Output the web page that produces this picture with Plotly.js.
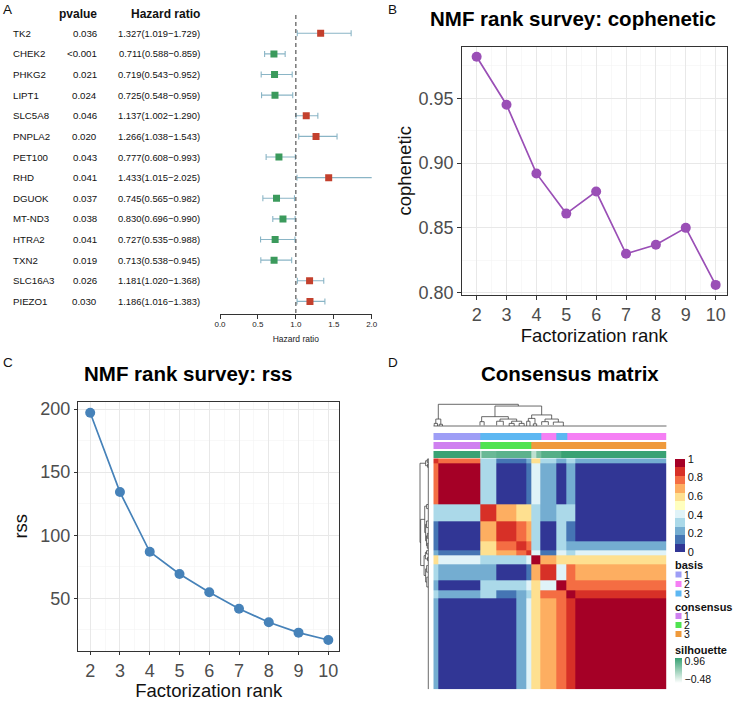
<!DOCTYPE html>
<html><head><meta charset="utf-8">
<script src="https://cdn.plot.ly/plotly-3.0.1.min.js"></script>
<style>html,body{margin:0;padding:0;background:#fff;}#chart{width:738px;height:701px;}</style>
</head><body><div id="chart"></div>
<script>
// ---------------- Panel A: forest plot data ----------------
const genes = ['TK2','CHEK2','PHKG2','LIPT1','SLC5A8','PNPLA2','PET100','RHD','DGUOK','MT-ND3','HTRA2','TXN2','SLC16A3','PIEZO1'];
const pvalues = ['0.036','<0.001','0.021','0.024','0.046','0.020','0.043','0.041','0.037','0.038','0.041','0.019','0.026','0.030'];
const hazardRatio = [1.327,0.711,0.719,0.725,1.137,1.266,0.777,1.433,0.745,0.830,0.727,0.713,1.181,1.186];
const ciLower = [1.019,0.588,0.543,0.548,1.002,1.038,0.608,1.015,0.565,0.696,0.535,0.538,1.020,1.016];
const ciUpper = [1.729,0.859,0.952,0.959,1.290,1.543,0.993,2.025,0.982,0.990,0.988,0.945,1.368,1.383];
const hrTicks = [0,0.5,1,1.5,2];
const hrTickText = ['0.0','0.5','1.0','1.5','2.0'];

// ---------------- Panels B & C: rank survey ----------------
const ranks = [2,3,4,5,6,7,8,9,10];
const cophenetic = [0.982,0.945,0.892,0.861,0.878,0.830,0.837,0.850,0.806];
const rss = [197.1,134.2,86.9,69.3,54.8,41.8,31.0,22.8,17.0];

// ---------------- Panel D: consensus matrix ----------------
const segmentBounds = [0,3,28,38,50,56,59,64,74,80,85,140];
const consensusBlocks = [
  [0.90,0.78,0.35,0.15,0.15,0.20,0.60,0.30,0.20,0.30,0.25],
  [0.78,0.97,0.32,0.05,0.08,0.12,0.40,0.25,0.05,0.25,0.03],
  [0.35,0.32,0.85,0.68,0.62,0.55,0.35,0.25,0.30,0.30,0.05],
  [0.15,0.05,0.68,0.84,0.74,0.66,0.30,0.05,0.32,0.15,0.08],
  [0.15,0.08,0.62,0.74,0.88,0.74,0.35,0.08,0.35,0.25,0.22],
  [0.20,0.12,0.55,0.66,0.74,0.90,0.45,0.15,0.40,0.35,0.38],
  [0.60,0.40,0.35,0.30,0.35,0.45,0.92,0.70,0.60,0.55,0.62],
  [0.30,0.25,0.25,0.05,0.08,0.15,0.70,0.88,0.45,0.75,0.68],
  [0.20,0.05,0.30,0.32,0.35,0.40,0.60,0.45,0.93,0.80,0.80],
  [0.30,0.25,0.30,0.15,0.25,0.35,0.55,0.75,0.80,0.93,0.85],
  [0.25,0.03,0.05,0.08,0.22,0.38,0.62,0.68,0.80,0.85,0.96]
];
const basisBounds = [0,28,65,73.6,80.6,140];
const basisClass = [1,3,2,3,2];
const consensusBounds = [0,28,59,140];
const consensusClass = [1,2,3];
const silhouetteBounds = [0,28,28.6,38,59,62,65,77,140];
const silhouetteValues = [0.95,-0.4,0.6,0.7,0.0,0.5,0.75,0.95];
// dendrogram merges: [left position, right position, merge height, left child height, right child height]
const dendroMerges = [
  [3,51,1.0,0.32,0.92],[37,65,0.92,0.43,0.51],
  [1.5,4.5,0.32,0.12,0.08],[0.5,2.5,0.12,0,0],[3.5,5.5,0.08,0,0],
  [29,45,0.43,0.2,0.32],[28,30.5,0.2,0.03,0.03],[40,50,0.32,0.22,0.22],
  [38,42,0.22,0.03,0.03],[47,53,0.22,0.12,0.12],[45.5,48.5,0.12,0,0],[51.5,54.5,0.12,0,0],
  [59,71,0.51,0.35,0.32],[57,61,0.35,0.22,0.1],[56,58,0.22,0,0],[60,62,0.1,0,0],
  [67,75,0.32,0.2,0.18],[65,69,0.2,0.05,0.05],[72,78,0.18,0.05,0],
  [0,140,0,0,0]
];
const heatTicks = [0,0.2,0.4,0.6,0.8,1];
const heatTickText = ['0','0.2','0.4','0.6','0.8','1'];
const basisLabels = ['1','2','3'];
const consensusLabels = ['1','2','3'];
const silhouetteRange = [-0.48,0.96];

// ---------------- styling ----------------
const F = 'Liberation Sans, Arial, sans-serif';
const W = 738, H = 701;
const px = v => v / W;
const py = v => 1 - v / H;
const RED = '#c3402d', GREEN = '#3b9a5c';
const heatColors = ['#313695','#4575b4','#74add1','#abd9e9','#e0f3f8','#ffffbf','#fee090','#fdae61','#f46d43','#d73027','#a50026'];
const basisColors = ['#9e9ef6','#f57ff4','#5db7f2'];
const consensusColors = ['#cf81f0','#50e350','#ef9a3c'];
function discreteScale(cols){
  const n = cols.length, s = [];
  cols.forEach((c,i)=>{ s.push([i/n,c]); s.push([(i+1)/n,c]); });
  return s;
}
function dendroPath(m){
  const a=[], b=[];
  m.forEach(([l,r,h,hl,hr])=>{ a.push(l,l,r,r,null); b.push(hl,h,h,hr,null); });
  return {pos:a, hgt:b};
}
const dp = dendroPath(dendroMerges);
const rowIdx = genes.map((g,i)=>i+1);
// legend tick labels sit slightly inside the bar ends, as in the reference
const silSpan = silhouetteRange[1]-silhouetteRange[0];
const silTickPos = [silhouetteRange[0]+0.15*silSpan, silhouetteRange[1]-0.13*silSpan];

const traces = [];
// forest
traces.push({
  type:'scatter', mode:'markers', x:hazardRatio, y:rowIdx, xaxis:'x', yaxis:'y',
  marker:{symbol:'square', size:7, color:hazardRatio.map(v=>v>1?RED:GREEN)},
  error_x:{type:'data', symmetric:false,
    array:ciUpper.map((u,i)=>u-hazardRatio[i]), arrayminus:ciLower.map((l,i)=>hazardRatio[i]-l),
    color:'#8ab5c6', thickness:1.1, width:3},
  hoverinfo:'skip'
});
// B
traces.push({type:'scatter', mode:'lines+markers', x:ranks, y:cophenetic, xaxis:'x2', yaxis:'y2',
  line:{color:'#9a4fb6', width:1.7}, marker:{color:'#9a4fb6', size:10}});
// C
traces.push({type:'scatter', mode:'lines+markers', x:ranks, y:rss, xaxis:'x3', yaxis:'y3',
  line:{color:'#4682b9', width:1.7}, marker:{color:'#4682b9', size:10}});
// D main heatmap
traces.push({type:'heatmap', x:segmentBounds, y:segmentBounds, z:consensusBlocks, xaxis:'x4', yaxis:'y4',
  zmin:0, zmax:1, colorscale:discreteScale(heatColors), hoverinfo:'skip',
  colorbar:{x:px(675), xanchor:'left', y:py(459), yanchor:'top', len:93, lenmode:'pixels',
    thickness:10, thicknessmode:'pixels', outlinewidth:0, xpad:0, ypad:0,
    tickmode:'array', tickvals:heatTicks, ticktext:heatTickText, ticks:'',
    tickfont:{family:F, size:11, color:'#111'}}});
// annotation tracks
traces.push({type:'heatmap', x:basisBounds, y:[0,0.78], z:[basisClass], xaxis:'x5', yaxis:'y5',
  zmin:0.5, zmax:3.5, colorscale:discreteScale(basisColors), showscale:false, hoverinfo:'skip'});
traces.push({type:'heatmap', x:consensusBounds, y:[1,1.78], z:[consensusClass], xaxis:'x5', yaxis:'y5',
  zmin:0.5, zmax:3.5, colorscale:discreteScale(consensusColors), showscale:false, hoverinfo:'skip'});
traces.push({type:'heatmap', x:silhouetteBounds, y:[2,2.78], z:[silhouetteValues], xaxis:'x5', yaxis:'y5',
  zmin:silhouetteRange[0], zmax:silhouetteRange[1], colorscale:[[0,'#ffffff'],[1,'#38a173']], hoverinfo:'skip',
  colorbar:{x:px(675), xanchor:'left', y:py(658), yanchor:'top', len:25, lenmode:'pixels',
    thickness:7, thicknessmode:'pixels', outlinewidth:0, xpad:0, ypad:0,
    tickmode:'array', tickvals:silTickPos, ticktext:['\u22120.48','0.96'], ticks:'',
    tickfont:{family:F, size:10.5, color:'#111'}}});
// dendrograms
traces.push({type:'scatter', mode:'lines', x:dp.pos, y:dp.hgt, xaxis:'x6', yaxis:'y6',
  line:{color:'#444', width:0.8}, hoverinfo:'skip'});
traces.push({type:'scatter', mode:'lines', x:dp.hgt, y:dp.pos, xaxis:'x7', yaxis:'y7',
  line:{color:'#444', width:0.8}, hoverinfo:'skip'});

const ggAxis = (dom, range, extra) => Object.assign({
  domain:dom, range:range, showline:true, mirror:true, linecolor:'#333', linewidth:1,
  ticks:'outside', ticklen:3.5, tickcolor:'#333', tickwidth:1,
  tickfont:{family:F, size:18, color:'#4d4d4d'}, showgrid:true, gridcolor:'#e8e8e8', gridwidth:1,
  zeroline:false
}, extra);
const hidden = (dom, range, anchor) => ({domain:dom, range:range, visible:false, anchor:anchor, fixedrange:true});

const layout = {
  width:W, height:H, margin:{l:0,r:0,t:0,b:0}, paper_bgcolor:'#fff', plot_bgcolor:'#fff',
  showlegend:false, font:{family:F, color:'#111'},
  xaxis:{domain:[px(220),px(371.7)], range:[0,2], anchor:'y', showline:true, linecolor:'#333', linewidth:1,
    ticks:'outside', ticklen:4, tickcolor:'#333', tickmode:'array', tickvals:hrTicks, ticktext:hrTickText,
    tickfont:{family:F, size:8, color:'#222'}, showgrid:false, zeroline:false, ticklabelstandoff:-2,
    title:{text:'Hazard ratio', font:{family:F, size:8.5, color:'#222'}, standoff:8}},
  yaxis:{domain:[py(314),py(12)], range:[14.61,-0.03], visible:false, anchor:'x'},
  xaxis2:ggAxis([px(461.7),px(726.7)], [1.5,10.37], {anchor:'y2', tick0:2, dtick:1,
    minor:{dtick:0.5, showgrid:true, gridcolor:'#f3f3f3', gridwidth:0.6},
    title:{text:'Factorization rank', font:{family:F, size:18.5, color:'#111'}, standoff:4}}),
  yaxis2:ggAxis([py(295),py(46.7)], [0.7982,0.9898], {anchor:'x2', tick0:0.8, dtick:0.05, tickformat:'.2f',
    minor:{dtick:0.025, showgrid:true, gridcolor:'#f3f3f3', gridwidth:0.6},
    title:{text:'cophenetic', font:{family:F, size:18.5, color:'#111'}, standoff:2}}),
  xaxis3:ggAxis([px(78.3),px(339.3)], [1.6,10.37], {anchor:'y3', tick0:2, dtick:1,
    minor:{dtick:0.5, showgrid:true, gridcolor:'#f3f3f3', gridwidth:0.6},
    title:{text:'Factorization rank', font:{family:F, size:18.5, color:'#111'}, standoff:4}}),
  yaxis3:ggAxis([py(650.7),py(401.7)], [8.5,205.8], {anchor:'x3', tick0:50, dtick:50,
    minor:{dtick:25, showgrid:true, gridcolor:'#f3f3f3', gridwidth:0.6},
    title:{text:'rss', font:{family:F, size:18.5, color:'#111'}, standoff:7}}),
  xaxis4:hidden([px(433.3),px(666.7)], [0,140], 'y4'),
  yaxis4:hidden([py(689.3),py(458.3)], [140,0], 'x4'),
  xaxis5:hidden([px(433.3),px(666.7)], [0,140], 'y5'),
  yaxis5:hidden([py(458.2),py(433)], [2.8,0], 'x5'),
  xaxis6:hidden([px(433.3),px(666.7)], [0,140], 'y6'),
  yaxis6:hidden([py(427),py(403)], [-0.046,1.06], 'x6'),
  xaxis7:hidden([px(419),px(429)], [1.12,-0.084], 'y7'),
  yaxis7:hidden([py(689.3),py(458.3)], [140,0], 'x7'),
  shapes:[], annotations:[]
};

// dashed reference line at HR = 1
layout.shapes.push({type:'line', xref:'x', yref:'paper', x0:1, x1:1, y0:py(313), y1:py(12),
  line:{color:'#555', width:1.2, dash:'4px,3px'}});

const A = layout.annotations;
const txt = (x, y, text, opt) => Object.assign({xref:'paper', yref:'paper', x:x, y:y, text:text,
  xanchor:'center', yanchor:'middle', showarrow:false, font:{family:F, size:9.7, color:'#111'}}, opt);

// panel letters
[['A',7,9],['B',392,9],['C',7.5,362],['D',393,362]].forEach(([t,x,y])=>
  A.push(txt(px(x), py(y), t, {font:{family:F, size:13.5, color:'#111'}})));
// forest headers
A.push(txt(px(99), py(14), '<b>pvalue</b>', {xanchor:'right', font:{family:F, size:12, color:'#111'}}));
A.push(txt(px(201.5), py(14), '<b>Hazard ratio</b>', {xanchor:'right', font:{family:F, size:12, color:'#111'}}));
// forest rows
genes.forEach((g,i)=>{
  A.push({xref:'paper', yref:'y', x:px(11), y:rowIdx[i], text:g, xanchor:'left', yanchor:'middle', showarrow:false,
    font:{family:F, size:9.7, color:'#111'}});
  A.push({xref:'paper', yref:'y', x:px(99), y:rowIdx[i], text:pvalues[i].replace('<','&lt;'), xanchor:'right', yanchor:'middle', showarrow:false,
    font:{family:F, size:9.7, color:'#111'}});
  A.push({xref:'paper', yref:'y', x:px(201.5), y:rowIdx[i],
    text:hazardRatio[i].toFixed(3)+'('+ciLower[i].toFixed(3)+'\u2212'+ciUpper[i].toFixed(3)+')',
    xanchor:'right', yanchor:'middle', showarrow:false, font:{family:F, size:9.4, color:'#111'}});
});
// panel titles
A.push(txt(px(573.3), py(18.3), '<b>NMF rank survey: cophenetic</b>', {font:{family:F, size:20.5, color:'#000'}}));
A.push(txt(px(188), py(373.3), '<b>NMF rank survey: rss</b>', {font:{family:F, size:20.5, color:'#000'}}));
A.push(txt(px(569.5), py(373.3), '<b>Consensus matrix</b>', {font:{family:F, size:20.5, color:'#000'}}));

// heatmap legends: basis / consensus / silhouette
const legT = {xanchor:'left', borderpad:0, font:{family:F, size:11, color:'#111'}};
const legI = {xanchor:'left', borderpad:0, font:{family:F, size:10.5, color:'#111'}};
A.push(txt(px(674), py(565), '<b>basis</b>', legT));
const basisY = [574.5,584,593.5], consY = [616,625,634];
basisLabels.forEach((l,i)=>{
  layout.shapes.push({type:'rect', xref:'paper', yref:'paper', x0:px(675.5), x1:px(681.5),
    y0:py(basisY[i]+3), y1:py(basisY[i]-3), fillcolor:basisColors[i], line:{width:0}});
  A.push(txt(px(682.5), py(basisY[i]), l, legI));
});
A.push(txt(px(674), py(606.5), '<b>consensus</b>', legT));
consensusLabels.forEach((l,i)=>{
  layout.shapes.push({type:'rect', xref:'paper', yref:'paper', x0:px(675.5), x1:px(681.5),
    y0:py(consY[i]+3), y1:py(consY[i]-3), fillcolor:consensusColors[i], line:{width:0}});
  A.push(txt(px(682.5), py(consY[i]), l, legI));
});
A.push(txt(px(674), py(649.5), '<b>silhouette</b>', legT));

Plotly.newPlot('chart', traces, layout, {staticPlot:true, displayModeBar:false});
</script></body></html>
